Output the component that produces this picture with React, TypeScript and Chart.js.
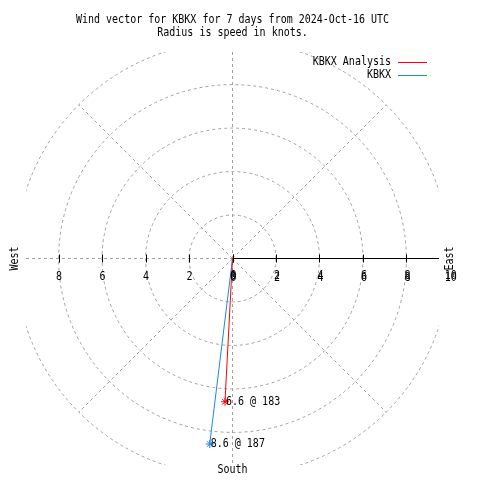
import React, { useEffect, useRef } from "react";
import { Chart, registerables } from "chart.js";

Chart.register(...registerables);

// ---- data ----
const seriesNames = ["KBKX Analysis", "KBKX"];
const speeds = [6.6, 8.6]; // knots
const directions = [183, 187]; // degrees
const ringValues = [2, 4, 6, 8, 10];
const tickValues = [2, 4, 6, 8];
const rightTickLabels = ["0", "2", "4", "6", "8", "10"];
const rightTickValues = [0, 2, 4, 6, 8, 10];
const leftTickLabels = ["8", "6", "4", "2", "0"];
const leftTickValues = [8, 6, 4, 2, 0];
const titleLines = [
  "Wind vector for KBKX for 7 days from 2024-Oct-16 UTC",
  "Radius is speed in knots.",
];
const axisMax = 9.5;

// ---- styles ----
const seriesColors = ["#ff0000", "#1c86ee"];
const gridColor = "#a0a0a0";
const FONT = '10px "DejaVu Sans Mono", "Liberation Mono", monospace';

function drawText(
  ctx: CanvasRenderingContext2D,
  text: string,
  x: number,
  y: number,
  align: CanvasTextAlign,
  rotate = 0
) {
  ctx.save();
  ctx.translate(x, y);
  if (rotate) ctx.rotate(rotate);
  ctx.scale(1, 1.2);
  ctx.font = FONT;
  ctx.fillStyle = "#000";
  ctx.textAlign = align;
  ctx.textBaseline = "middle";
  ctx.fillText(text, 0, 0);
  ctx.restore();
}

const polarPlugin = {
  id: "polarGrid",
  beforeDatasetsDraw(chart: any) {
    const { ctx, chartArea: a, scales } = chart;
    const xs = scales.x;
    const ys = scales.y;
    const cx = xs.getPixelForValue(0);
    const cy = ys.getPixelForValue(0);
    const k = xs.getPixelForValue(1) - cx;
    ctx.save();
    ctx.beginPath();
    ctx.rect(a.left, a.top, a.right - a.left, a.bottom - a.top);
    ctx.clip();
    ctx.strokeStyle = gridColor;
    ctx.lineWidth = 1;
    ctx.setLineDash([3, 3]);
    ringValues.forEach((r) => {
      ctx.beginPath();
      ctx.arc(cx, cy, r * k, 0, Math.PI * 2);
      ctx.stroke();
    });
    const rMax = ringValues[ringValues.length - 1];
    [45, 135, 225, 315].forEach((deg) => {
      const t = (deg * Math.PI) / 180;
      ctx.beginPath();
      ctx.moveTo(cx, cy);
      ctx.lineTo(cx + Math.sin(t) * rMax * k, cy - Math.cos(t) * rMax * k);
      ctx.stroke();
    });
    ctx.beginPath();
    ctx.moveTo(cx, a.top);
    ctx.lineTo(cx, a.bottom);
    ctx.stroke();
    ctx.beginPath();
    ctx.moveTo(a.left, cy);
    ctx.lineTo(cx, cy);
    ctx.stroke();
    // solid radial axis
    ctx.setLineDash([]);
    ctx.strokeStyle = "#000";
    ctx.beginPath();
    ctx.moveTo(cx, cy);
    ctx.lineTo(a.right, cy);
    ctx.stroke();
    [0, ...tickValues].forEach((v) => {
      [-1, 1].forEach((s) => {
        const px = Math.round(cx + s * v * k) + 0.5;
        ctx.beginPath();
        ctx.moveTo(px, cy - 4);
        ctx.lineTo(px, cy + 4);
        ctx.stroke();
      });
    });
    ctx.restore();
  },
  afterDatasetsDraw(chart: any) {
    const { ctx, chartArea: a, scales } = chart;
    const xs = scales.x;
    const ys = scales.y;
    const cx = xs.getPixelForValue(0);
    const cy = ys.getPixelForValue(0);
    const k = xs.getPixelForValue(1) - cx;
    // titles
    titleLines.forEach((t, i) => drawText(ctx, t, cx, 20 + i * 13, "center"));
    // tick labels
    leftTickValues.forEach((v, i) =>
      drawText(ctx, leftTickLabels[i], cx - v * k + 0.5, cy + 18, "center")
    );
    rightTickValues.forEach((v, i) => {
      drawText(ctx, rightTickLabels[i], cx + v * k + 1, cy + 17, "center");
      drawText(ctx, rightTickLabels[i], cx + v * k + 1, cy + 19, "center");
    });
    // direction labels
    drawText(ctx, "West", 15, cy, "center", -Math.PI / 2);
    drawText(ctx, "East", a.right + 11, cy, "center", -Math.PI / 2);
    drawText(ctx, "South", cx, 470, "center");
    // legend
    seriesNames.forEach((name, i) => {
      const ly = 62 + i * 13;
      drawText(ctx, name, 391, ly, "right");
      ctx.save();
      ctx.strokeStyle = seriesColors[i];
      ctx.lineWidth = 1;
      ctx.beginPath();
      ctx.moveTo(398, ly + 0.5);
      ctx.lineTo(427, ly + 0.5);
      ctx.stroke();
      ctx.restore();
    });
    // value labels
    seriesNames.forEach((_, i) => {
      const meta = chart.getDatasetMeta(i);
      const p = meta.data[1];
      drawText(ctx, `${speeds[i]} @ ${directions[i]}`, p.x + 1, p.y, "left");
    });
  },
};

export default function App() {
  const ref = useRef<HTMLCanvasElement>(null);
  useEffect(() => {
    if (!ref.current) return;
    const datasets = seriesNames.map((name, i) => {
      const t = (directions[i] * Math.PI) / 180;
      return {
        label: name,
        data: [
          { x: 0, y: 0 },
          { x: speeds[i] * Math.sin(t), y: speeds[i] * Math.cos(t) },
        ],
        showLine: true,
        borderColor: seriesColors[i],
        backgroundColor: seriesColors[i],
        borderWidth: 1,
        pointStyle: "star",
        pointRadius: [0, 4],
        pointBorderWidth: 1,
        pointBorderColor: seriesColors[i],
      };
    });
    const chart = new Chart(ref.current, {
      type: "scatter",
      data: { datasets },
      options: {
        animation: false,
        responsive: false,
        layout: { padding: { left: 26, right: 41, top: 52, bottom: 15 } },
        scales: {
          x: { type: "linear", min: -axisMax, max: axisMax, display: false },
          y: { type: "linear", min: -axisMax, max: axisMax, display: false },
        },
        plugins: { legend: { display: false }, tooltip: { enabled: false } },
      },
      plugins: [polarPlugin],
    } as any);
    return () => chart.destroy();
  }, []);
  return (
    <div style={{ position: "absolute", left: 0, top: 0, width: 480, height: 480, background: "#fff" }}>
      <canvas ref={ref} width={480} height={480} style={{ display: "block" }} />
    </div>
  );
}
